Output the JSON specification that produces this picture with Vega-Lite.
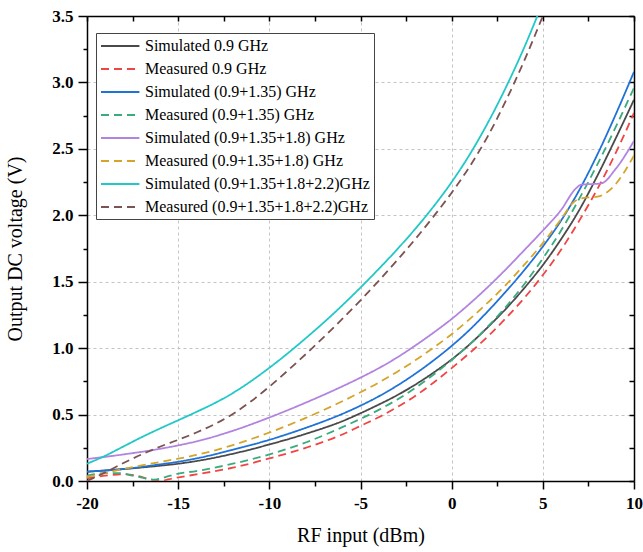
{
  "$schema": "https://vega.github.io/schema/vega-lite/v6.json",
  "width": 547,
  "height": 465,
  "autosize": {"type": "none"},
  "padding": {"left": 87, "top": 16, "right": 9, "bottom": 71},
  "background": "white",
  "config": {
    "font": "Liberation Serif, Times New Roman, serif",
    "view": {"stroke": null},
    "axis": {
      "domainColor": "black",
      "domainWidth": 1.5,
      "tickColor": "black",
      "tickWidth": 1.5,
      "labelFont": "Liberation Serif, Times New Roman, serif",
      "labelFontSize": 17,
      "labelFontWeight": "bold",
      "labelColor": "black",
      "titleFont": "Liberation Serif, Times New Roman, serif",
      "titleFontSize": 20,
      "titleFontWeight": "normal",
      "titleColor": "black",
      "gridColor": "#c4c4c4",
      "gridDash": [3, 3],
      "gridWidth": 1,
      "labelOverlap": false,
      "labelFlush": false
    },
    "legend": {
      "orient": "none",
      "legendX": 9,
      "legendY": 17,
      "strokeColor": "#444",
      "fillColor": "white",
      "padding": 4,
      "symbolType": "M-1,0H3.8",
      "symbolSize": 256,
      "symbolStrokeWidth": 2,
      "labelFont": "Liberation Serif, Times New Roman, serif",
      "labelFontSize": 16,
      "labelColor": "black",
      "labelOffset": 27,
      "rowPadding": 6,
      "labelLimit": 400
    }
  },
  "data": {
    "values": [
      {"series": "Simulated 0.9 GHz", "x": -20, "y": 0.07},
      {"series": "Simulated 0.9 GHz", "x": -18, "y": 0.09},
      {"series": "Simulated 0.9 GHz", "x": -16, "y": 0.115},
      {"series": "Simulated 0.9 GHz", "x": -15, "y": 0.13},
      {"series": "Simulated 0.9 GHz", "x": -14, "y": 0.15},
      {"series": "Simulated 0.9 GHz", "x": -12, "y": 0.205},
      {"series": "Simulated 0.9 GHz", "x": -10, "y": 0.275},
      {"series": "Simulated 0.9 GHz", "x": -8, "y": 0.355},
      {"series": "Simulated 0.9 GHz", "x": -6, "y": 0.45},
      {"series": "Simulated 0.9 GHz", "x": -5, "y": 0.51},
      {"series": "Simulated 0.9 GHz", "x": -4, "y": 0.575},
      {"series": "Simulated 0.9 GHz", "x": -3, "y": 0.645},
      {"series": "Simulated 0.9 GHz", "x": -2, "y": 0.725},
      {"series": "Simulated 0.9 GHz", "x": -1, "y": 0.815},
      {"series": "Simulated 0.9 GHz", "x": 0, "y": 0.915},
      {"series": "Simulated 0.9 GHz", "x": 1, "y": 1.03},
      {"series": "Simulated 0.9 GHz", "x": 2, "y": 1.16},
      {"series": "Simulated 0.9 GHz", "x": 3, "y": 1.3},
      {"series": "Simulated 0.9 GHz", "x": 4, "y": 1.455},
      {"series": "Simulated 0.9 GHz", "x": 5, "y": 1.625},
      {"series": "Simulated 0.9 GHz", "x": 6, "y": 1.82},
      {"series": "Simulated 0.9 GHz", "x": 7, "y": 2.04},
      {"series": "Simulated 0.9 GHz", "x": 8, "y": 2.3},
      {"series": "Simulated 0.9 GHz", "x": 9, "y": 2.58},
      {"series": "Simulated 0.9 GHz", "x": 10, "y": 2.87},

      {"series": "Measured 0.9 GHz", "x": -20, "y": 0.02},
      {"series": "Measured 0.9 GHz", "x": -19, "y": 0.04},
      {"series": "Measured 0.9 GHz", "x": -18, "y": 0.05},
      {"series": "Measured 0.9 GHz", "x": -17.3, "y": 0.04},
      {"series": "Measured 0.9 GHz", "x": -16.5, "y": 0.01},
      {"series": "Measured 0.9 GHz", "x": -16, "y": 0.0},
      {"series": "Measured 0.9 GHz", "x": -15.3, "y": 0.02},
      {"series": "Measured 0.9 GHz", "x": -14, "y": 0.05},
      {"series": "Measured 0.9 GHz", "x": -12, "y": 0.1},
      {"series": "Measured 0.9 GHz", "x": -10, "y": 0.17},
      {"series": "Measured 0.9 GHz", "x": -8, "y": 0.25},
      {"series": "Measured 0.9 GHz", "x": -6, "y": 0.35},
      {"series": "Measured 0.9 GHz", "x": -5, "y": 0.415},
      {"series": "Measured 0.9 GHz", "x": -4, "y": 0.48},
      {"series": "Measured 0.9 GHz", "x": -3, "y": 0.555},
      {"series": "Measured 0.9 GHz", "x": -2, "y": 0.64},
      {"series": "Measured 0.9 GHz", "x": -1, "y": 0.74},
      {"series": "Measured 0.9 GHz", "x": 0, "y": 0.85},
      {"series": "Measured 0.9 GHz", "x": 1, "y": 0.965},
      {"series": "Measured 0.9 GHz", "x": 2, "y": 1.09},
      {"series": "Measured 0.9 GHz", "x": 3, "y": 1.23},
      {"series": "Measured 0.9 GHz", "x": 4, "y": 1.38},
      {"series": "Measured 0.9 GHz", "x": 5, "y": 1.55},
      {"series": "Measured 0.9 GHz", "x": 6, "y": 1.74},
      {"series": "Measured 0.9 GHz", "x": 7, "y": 1.96},
      {"series": "Measured 0.9 GHz", "x": 8, "y": 2.2},
      {"series": "Measured 0.9 GHz", "x": 9, "y": 2.47},
      {"series": "Measured 0.9 GHz", "x": 10, "y": 2.77},

      {"series": "Simulated (0.9+1.35) GHz", "x": -20, "y": 0.07},
      {"series": "Simulated (0.9+1.35) GHz", "x": -18, "y": 0.09},
      {"series": "Simulated (0.9+1.35) GHz", "x": -16, "y": 0.125},
      {"series": "Simulated (0.9+1.35) GHz", "x": -15, "y": 0.145},
      {"series": "Simulated (0.9+1.35) GHz", "x": -14, "y": 0.17},
      {"series": "Simulated (0.9+1.35) GHz", "x": -12, "y": 0.235},
      {"series": "Simulated (0.9+1.35) GHz", "x": -10, "y": 0.31},
      {"series": "Simulated (0.9+1.35) GHz", "x": -8, "y": 0.4},
      {"series": "Simulated (0.9+1.35) GHz", "x": -6, "y": 0.505},
      {"series": "Simulated (0.9+1.35) GHz", "x": -5, "y": 0.567},
      {"series": "Simulated (0.9+1.35) GHz", "x": -4, "y": 0.637},
      {"series": "Simulated (0.9+1.35) GHz", "x": -3, "y": 0.717},
      {"series": "Simulated (0.9+1.35) GHz", "x": -2, "y": 0.807},
      {"series": "Simulated (0.9+1.35) GHz", "x": -1, "y": 0.907},
      {"series": "Simulated (0.9+1.35) GHz", "x": 0, "y": 1.017},
      {"series": "Simulated (0.9+1.35) GHz", "x": 1, "y": 1.14},
      {"series": "Simulated (0.9+1.35) GHz", "x": 2, "y": 1.28},
      {"series": "Simulated (0.9+1.35) GHz", "x": 3, "y": 1.43},
      {"series": "Simulated (0.9+1.35) GHz", "x": 4, "y": 1.59},
      {"series": "Simulated (0.9+1.35) GHz", "x": 5, "y": 1.765},
      {"series": "Simulated (0.9+1.35) GHz", "x": 6, "y": 1.96},
      {"series": "Simulated (0.9+1.35) GHz", "x": 7, "y": 2.19},
      {"series": "Simulated (0.9+1.35) GHz", "x": 8, "y": 2.46},
      {"series": "Simulated (0.9+1.35) GHz", "x": 9, "y": 2.76},
      {"series": "Simulated (0.9+1.35) GHz", "x": 10, "y": 3.08},

      {"series": "Measured (0.9+1.35) GHz", "x": -20, "y": 0.04},
      {"series": "Measured (0.9+1.35) GHz", "x": -19, "y": 0.06},
      {"series": "Measured (0.9+1.35) GHz", "x": -18.2, "y": 0.06},
      {"series": "Measured (0.9+1.35) GHz", "x": -17.5, "y": 0.04},
      {"series": "Measured (0.9+1.35) GHz", "x": -16.8, "y": 0.02},
      {"series": "Measured (0.9+1.35) GHz", "x": -16.3, "y": 0.01},
      {"series": "Measured (0.9+1.35) GHz", "x": -15.7, "y": 0.03},
      {"series": "Measured (0.9+1.35) GHz", "x": -15, "y": 0.055},
      {"series": "Measured (0.9+1.35) GHz", "x": -14, "y": 0.075},
      {"series": "Measured (0.9+1.35) GHz", "x": -12, "y": 0.13},
      {"series": "Measured (0.9+1.35) GHz", "x": -10, "y": 0.2},
      {"series": "Measured (0.9+1.35) GHz", "x": -8, "y": 0.29},
      {"series": "Measured (0.9+1.35) GHz", "x": -6, "y": 0.405},
      {"series": "Measured (0.9+1.35) GHz", "x": -5, "y": 0.468},
      {"series": "Measured (0.9+1.35) GHz", "x": -4, "y": 0.535},
      {"series": "Measured (0.9+1.35) GHz", "x": -3, "y": 0.612},
      {"series": "Measured (0.9+1.35) GHz", "x": -2, "y": 0.7},
      {"series": "Measured (0.9+1.35) GHz", "x": -1, "y": 0.8},
      {"series": "Measured (0.9+1.35) GHz", "x": 0, "y": 0.91},
      {"series": "Measured (0.9+1.35) GHz", "x": 1, "y": 1.03},
      {"series": "Measured (0.9+1.35) GHz", "x": 2, "y": 1.165},
      {"series": "Measured (0.9+1.35) GHz", "x": 3, "y": 1.315},
      {"series": "Measured (0.9+1.35) GHz", "x": 4, "y": 1.485},
      {"series": "Measured (0.9+1.35) GHz", "x": 5, "y": 1.675},
      {"series": "Measured (0.9+1.35) GHz", "x": 6, "y": 1.885},
      {"series": "Measured (0.9+1.35) GHz", "x": 7, "y": 2.125},
      {"series": "Measured (0.9+1.35) GHz", "x": 8, "y": 2.385},
      {"series": "Measured (0.9+1.35) GHz", "x": 9, "y": 2.665},
      {"series": "Measured (0.9+1.35) GHz", "x": 10, "y": 2.96},

      {"series": "Simulated (0.9+1.35+1.8) GHz", "x": -20, "y": 0.165},
      {"series": "Simulated (0.9+1.35+1.8) GHz", "x": -18, "y": 0.2},
      {"series": "Simulated (0.9+1.35+1.8) GHz", "x": -16, "y": 0.242},
      {"series": "Simulated (0.9+1.35+1.8) GHz", "x": -15, "y": 0.268},
      {"series": "Simulated (0.9+1.35+1.8) GHz", "x": -14, "y": 0.298},
      {"series": "Simulated (0.9+1.35+1.8) GHz", "x": -12, "y": 0.378},
      {"series": "Simulated (0.9+1.35+1.8) GHz", "x": -10, "y": 0.478},
      {"series": "Simulated (0.9+1.35+1.8) GHz", "x": -8, "y": 0.59},
      {"series": "Simulated (0.9+1.35+1.8) GHz", "x": -6, "y": 0.712},
      {"series": "Simulated (0.9+1.35+1.8) GHz", "x": -5, "y": 0.778},
      {"series": "Simulated (0.9+1.35+1.8) GHz", "x": -4, "y": 0.849},
      {"series": "Simulated (0.9+1.35+1.8) GHz", "x": -3, "y": 0.929},
      {"series": "Simulated (0.9+1.35+1.8) GHz", "x": -2, "y": 1.019},
      {"series": "Simulated (0.9+1.35+1.8) GHz", "x": -1, "y": 1.116},
      {"series": "Simulated (0.9+1.35+1.8) GHz", "x": 0, "y": 1.22},
      {"series": "Simulated (0.9+1.35+1.8) GHz", "x": 1, "y": 1.336},
      {"series": "Simulated (0.9+1.35+1.8) GHz", "x": 2, "y": 1.462},
      {"series": "Simulated (0.9+1.35+1.8) GHz", "x": 3, "y": 1.597},
      {"series": "Simulated (0.9+1.35+1.8) GHz", "x": 4, "y": 1.74},
      {"series": "Simulated (0.9+1.35+1.8) GHz", "x": 5, "y": 1.885},
      {"series": "Simulated (0.9+1.35+1.8) GHz", "x": 6, "y": 2.04},
      {"series": "Simulated (0.9+1.35+1.8) GHz", "x": 6.8, "y": 2.2},
      {"series": "Simulated (0.9+1.35+1.8) GHz", "x": 7.1, "y": 2.23},
      {"series": "Simulated (0.9+1.35+1.8) GHz", "x": 8.2, "y": 2.24},
      {"series": "Simulated (0.9+1.35+1.8) GHz", "x": 9, "y": 2.35},
      {"series": "Simulated (0.9+1.35+1.8) GHz", "x": 10, "y": 2.56},

      {"series": "Measured (0.9+1.35+1.8) GHz", "x": -20, "y": 0.03},
      {"series": "Measured (0.9+1.35+1.8) GHz", "x": -19, "y": 0.06},
      {"series": "Measured (0.9+1.35+1.8) GHz", "x": -18, "y": 0.09},
      {"series": "Measured (0.9+1.35+1.8) GHz", "x": -17, "y": 0.118},
      {"series": "Measured (0.9+1.35+1.8) GHz", "x": -16, "y": 0.143},
      {"series": "Measured (0.9+1.35+1.8) GHz", "x": -15, "y": 0.168},
      {"series": "Measured (0.9+1.35+1.8) GHz", "x": -14, "y": 0.196},
      {"series": "Measured (0.9+1.35+1.8) GHz", "x": -12, "y": 0.27},
      {"series": "Measured (0.9+1.35+1.8) GHz", "x": -10, "y": 0.365},
      {"series": "Measured (0.9+1.35+1.8) GHz", "x": -8, "y": 0.475},
      {"series": "Measured (0.9+1.35+1.8) GHz", "x": -6, "y": 0.6},
      {"series": "Measured (0.9+1.35+1.8) GHz", "x": -5, "y": 0.668},
      {"series": "Measured (0.9+1.35+1.8) GHz", "x": -4, "y": 0.741},
      {"series": "Measured (0.9+1.35+1.8) GHz", "x": -3, "y": 0.821},
      {"series": "Measured (0.9+1.35+1.8) GHz", "x": -2, "y": 0.908},
      {"series": "Measured (0.9+1.35+1.8) GHz", "x": -1, "y": 1.003},
      {"series": "Measured (0.9+1.35+1.8) GHz", "x": 0, "y": 1.105},
      {"series": "Measured (0.9+1.35+1.8) GHz", "x": 1, "y": 1.22},
      {"series": "Measured (0.9+1.35+1.8) GHz", "x": 2, "y": 1.345},
      {"series": "Measured (0.9+1.35+1.8) GHz", "x": 3, "y": 1.48},
      {"series": "Measured (0.9+1.35+1.8) GHz", "x": 4, "y": 1.63},
      {"series": "Measured (0.9+1.35+1.8) GHz", "x": 5, "y": 1.79},
      {"series": "Measured (0.9+1.35+1.8) GHz", "x": 6, "y": 1.97},
      {"series": "Measured (0.9+1.35+1.8) GHz", "x": 6.7, "y": 2.1},
      {"series": "Measured (0.9+1.35+1.8) GHz", "x": 7.2, "y": 2.13},
      {"series": "Measured (0.9+1.35+1.8) GHz", "x": 8, "y": 2.14},
      {"series": "Measured (0.9+1.35+1.8) GHz", "x": 8.9, "y": 2.22},
      {"series": "Measured (0.9+1.35+1.8) GHz", "x": 10, "y": 2.45},

      {"series": "Simulated (0.9+1.35+1.8+2.2)GHz", "x": -20, "y": 0.13},
      {"series": "Simulated (0.9+1.35+1.8+2.2)GHz", "x": -19, "y": 0.19},
      {"series": "Simulated (0.9+1.35+1.8+2.2)GHz", "x": -18, "y": 0.26},
      {"series": "Simulated (0.9+1.35+1.8+2.2)GHz", "x": -17, "y": 0.33},
      {"series": "Simulated (0.9+1.35+1.8+2.2)GHz", "x": -16, "y": 0.395},
      {"series": "Simulated (0.9+1.35+1.8+2.2)GHz", "x": -15, "y": 0.457},
      {"series": "Simulated (0.9+1.35+1.8+2.2)GHz", "x": -14, "y": 0.52},
      {"series": "Simulated (0.9+1.35+1.8+2.2)GHz", "x": -13, "y": 0.586},
      {"series": "Simulated (0.9+1.35+1.8+2.2)GHz", "x": -12, "y": 0.662},
      {"series": "Simulated (0.9+1.35+1.8+2.2)GHz", "x": -11, "y": 0.752},
      {"series": "Simulated (0.9+1.35+1.8+2.2)GHz", "x": -10, "y": 0.852},
      {"series": "Simulated (0.9+1.35+1.8+2.2)GHz", "x": -9, "y": 0.96},
      {"series": "Simulated (0.9+1.35+1.8+2.2)GHz", "x": -8, "y": 1.075},
      {"series": "Simulated (0.9+1.35+1.8+2.2)GHz", "x": -7, "y": 1.195},
      {"series": "Simulated (0.9+1.35+1.8+2.2)GHz", "x": -6, "y": 1.322},
      {"series": "Simulated (0.9+1.35+1.8+2.2)GHz", "x": -5, "y": 1.456},
      {"series": "Simulated (0.9+1.35+1.8+2.2)GHz", "x": -4, "y": 1.596},
      {"series": "Simulated (0.9+1.35+1.8+2.2)GHz", "x": -3, "y": 1.742},
      {"series": "Simulated (0.9+1.35+1.8+2.2)GHz", "x": -2, "y": 1.897},
      {"series": "Simulated (0.9+1.35+1.8+2.2)GHz", "x": -1, "y": 2.065},
      {"series": "Simulated (0.9+1.35+1.8+2.2)GHz", "x": 0, "y": 2.25},
      {"series": "Simulated (0.9+1.35+1.8+2.2)GHz", "x": 1, "y": 2.46},
      {"series": "Simulated (0.9+1.35+1.8+2.2)GHz", "x": 2, "y": 2.7},
      {"series": "Simulated (0.9+1.35+1.8+2.2)GHz", "x": 3, "y": 2.97},
      {"series": "Simulated (0.9+1.35+1.8+2.2)GHz", "x": 4, "y": 3.27},
      {"series": "Simulated (0.9+1.35+1.8+2.2)GHz", "x": 4.7, "y": 3.5},

      {"series": "Measured (0.9+1.35+1.8+2.2)GHz", "x": -20, "y": 0.0},
      {"series": "Measured (0.9+1.35+1.8+2.2)GHz", "x": -19, "y": 0.065},
      {"series": "Measured (0.9+1.35+1.8+2.2)GHz", "x": -18, "y": 0.135},
      {"series": "Measured (0.9+1.35+1.8+2.2)GHz", "x": -17, "y": 0.2},
      {"series": "Measured (0.9+1.35+1.8+2.2)GHz", "x": -16, "y": 0.258},
      {"series": "Measured (0.9+1.35+1.8+2.2)GHz", "x": -15, "y": 0.31},
      {"series": "Measured (0.9+1.35+1.8+2.2)GHz", "x": -14, "y": 0.365},
      {"series": "Measured (0.9+1.35+1.8+2.2)GHz", "x": -13, "y": 0.428},
      {"series": "Measured (0.9+1.35+1.8+2.2)GHz", "x": -12, "y": 0.505},
      {"series": "Measured (0.9+1.35+1.8+2.2)GHz", "x": -11, "y": 0.6},
      {"series": "Measured (0.9+1.35+1.8+2.2)GHz", "x": -10, "y": 0.71},
      {"series": "Measured (0.9+1.35+1.8+2.2)GHz", "x": -9, "y": 0.83},
      {"series": "Measured (0.9+1.35+1.8+2.2)GHz", "x": -8, "y": 0.955},
      {"series": "Measured (0.9+1.35+1.8+2.2)GHz", "x": -7, "y": 1.085},
      {"series": "Measured (0.9+1.35+1.8+2.2)GHz", "x": -6, "y": 1.22},
      {"series": "Measured (0.9+1.35+1.8+2.2)GHz", "x": -5, "y": 1.36},
      {"series": "Measured (0.9+1.35+1.8+2.2)GHz", "x": -4, "y": 1.507},
      {"series": "Measured (0.9+1.35+1.8+2.2)GHz", "x": -3, "y": 1.66},
      {"series": "Measured (0.9+1.35+1.8+2.2)GHz", "x": -2, "y": 1.82},
      {"series": "Measured (0.9+1.35+1.8+2.2)GHz", "x": -1, "y": 1.99},
      {"series": "Measured (0.9+1.35+1.8+2.2)GHz", "x": 0, "y": 2.17},
      {"series": "Measured (0.9+1.35+1.8+2.2)GHz", "x": 1, "y": 2.37},
      {"series": "Measured (0.9+1.35+1.8+2.2)GHz", "x": 2, "y": 2.6},
      {"series": "Measured (0.9+1.35+1.8+2.2)GHz", "x": 3, "y": 2.87},
      {"series": "Measured (0.9+1.35+1.8+2.2)GHz", "x": 4, "y": 3.17},
      {"series": "Measured (0.9+1.35+1.8+2.2)GHz", "x": 5, "y": 3.5}
    ]
  },
  "layer": [
    {
      "mark": {"type": "line", "interpolate": "monotone", "strokeWidth": 1.8, "clip": true},
      "encoding": {
        "x": {
          "field": "x", "type": "quantitative",
          "scale": {"domain": [-20, 10], "nice": false, "zero": false},
          "axis": {
            "title": "RF input (dBm)",
            "labelFont": "Liberation Serif, Times New Roman, serif",
            "titleFont": "Liberation Serif, Times New Roman, serif",
            "values": [-20, -17.5, -15, -12.5, -10, -7.5, -5, -2.5, 0, 2.5, 5, 7.5, 10],
            "labelExpr": "datum.value % 5 == 0 ? toString(datum.value) : ''",
            "tickSize": {"condition": {"test": "datum.value % 5 == 0", "value": 8}, "value": 5},
            "gridOpacity": {"condition": {"test": "datum.value % 5 == 0 && datum.value > -20 && datum.value < 10", "value": 1}, "value": 0},
            "labelPadding": 6,
            "titlePadding": 14
          }
        },
        "y": {
          "field": "y", "type": "quantitative",
          "scale": {"domain": [0, 3.5], "nice": false, "zero": true},
          "axis": {
            "title": "Output DC voltage (V)",
            "labelFont": "Liberation Serif, Times New Roman, serif",
            "titleFont": "Liberation Serif, Times New Roman, serif",
            "values": [0, 0.25, 0.5, 0.75, 1, 1.25, 1.5, 1.75, 2, 2.25, 2.5, 2.75, 3, 3.25, 3.5],
            "labelExpr": "datum.value % 0.5 == 0 ? format(datum.value, '.1f') : ''",
            "tickSize": {"condition": {"test": "datum.value % 0.5 == 0", "value": 9}, "value": 4},
            "gridOpacity": {"condition": {"test": "datum.value % 0.5 == 0 && datum.value > 0 && datum.value < 3.5", "value": 1}, "value": 0},
            "labelPadding": 5,
            "titlePadding": 26
          }
        },
        "color": {
          "field": "series", "type": "nominal",
          "scale": {
            "domain": ["Simulated 0.9 GHz", "Measured 0.9 GHz", "Simulated (0.9+1.35) GHz", "Measured (0.9+1.35) GHz", "Simulated (0.9+1.35+1.8) GHz", "Measured (0.9+1.35+1.8) GHz", "Simulated (0.9+1.35+1.8+2.2)GHz", "Measured (0.9+1.35+1.8+2.2)GHz"],
            "range": ["#4a4a4a", "#f04545", "#1f72d8", "#3aab7c", "#b383e0", "#d4a52a", "#22c8c8", "#7d5252"]
          },
          "legend": {"title": null}
        },
        "strokeDash": {
          "field": "series", "type": "nominal",
          "scale": {
            "domain": ["Simulated 0.9 GHz", "Measured 0.9 GHz", "Simulated (0.9+1.35) GHz", "Measured (0.9+1.35) GHz", "Simulated (0.9+1.35+1.8) GHz", "Measured (0.9+1.35+1.8) GHz", "Simulated (0.9+1.35+1.8+2.2)GHz", "Measured (0.9+1.35+1.8+2.2)GHz"],
            "range": [[1, 0], [8, 5], [1, 0], [8, 5], [1, 0], [8, 5], [1, 0], [8, 5]]
          },
          "legend": {"title": null}
        }
      }
    },
    {
      "mark": {"type": "line", "opacity": 0, "strokeOpacity": 0},
      "encoding": {
        "x": {
          "field": "x", "type": "quantitative",
          "axis": {
            "orient": "top", "title": null, "labels": false, "grid": false,
            "values": [-20, -17.5, -15, -12.5, -10, -7.5, -5, -2.5, 0, 2.5, 5, 7.5, 10],
            "tickSize": -5
          }
        },
        "y": {
          "field": "y", "type": "quantitative",
          "axis": {
            "orient": "right", "title": null, "labels": false, "grid": false,
            "values": [0, 0.25, 0.5, 0.75, 1, 1.25, 1.5, 1.75, 2, 2.25, 2.5, 2.75, 3, 3.25, 3.5],
            "tickSize": -5
          }
        },
        "detail": {"field": "series", "type": "nominal"}
      }
    }
  ],
  "resolve": {"axis": {"x": "independent", "y": "independent"}}
}
